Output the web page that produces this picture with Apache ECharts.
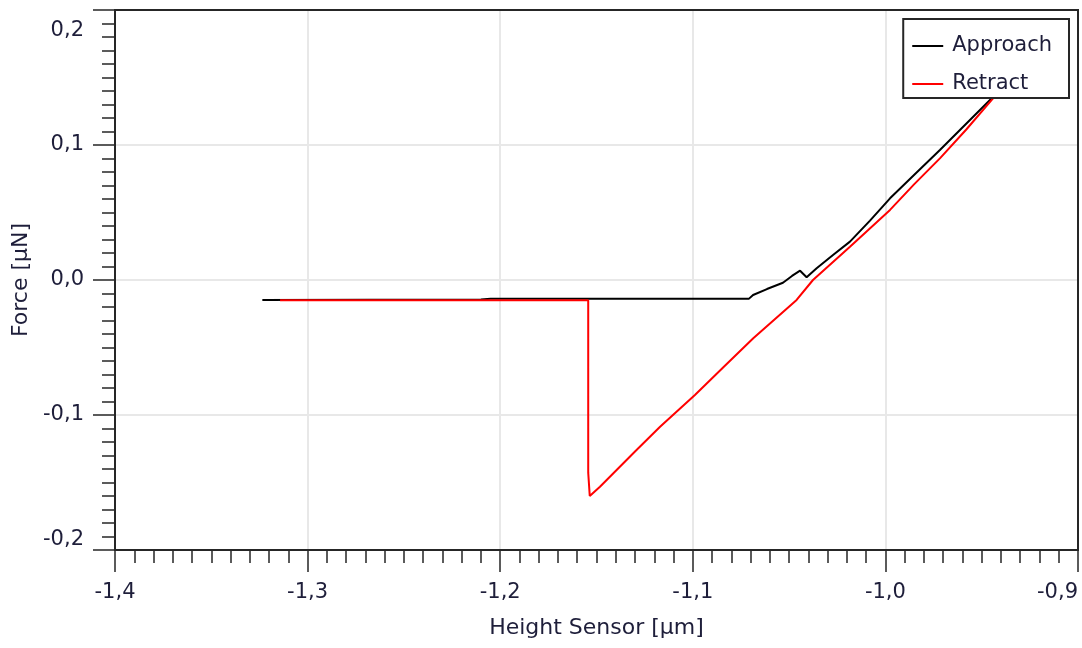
<!DOCTYPE html>
<html>
<head>
<meta charset="utf-8">
<title>Force curve</title>
<script src="https://cdn.jsdelivr.net/npm/echarts@6/dist/echarts.min.js"></script>
<style>
  html, body { margin: 0; padding: 0; background: #fff; }
  #chart { width: 1082px; height: 648px; }
</style>
</head>
<body>
<div id="chart"></div>
<script>
// Height sensor position [µm] and force [µN] for the approach curve
const approachHeight = [-1.3235, -1.2100, -1.2050, -1.1560, -1.0708, -1.0687, -1.0615, -1.0532, -1.0485, -1.0443,
  -1.0409, -1.0357, -1.0272, -1.0184, -1.0080, -0.9976, -0.9850, -0.9717, -0.9600, -0.9474, -0.9350];
const approachForce = [-0.0148, -0.0145, -0.0138, -0.0138, -0.0138, -0.0111, -0.0067, -0.0020, 0.0030, 0.0069,
  0.0020, 0.0087, 0.0185, 0.0284, 0.0440, 0.0605, 0.0780, 0.0963, 0.1130, 0.1309, 0.1485];

// Retract curve: flat baseline, snap-off jump, then the linear contact branch
const retractHeight = [-1.3143, -1.1543, -1.1543, -1.1535, -1.1535, -1.1482, -1.1300, -1.1170, -1.0989, -1.0840,
  -1.0686, -1.0461, -1.0376, -1.0184, -0.9976, -0.9850, -0.9717, -0.9580, -0.9449, -0.9350];
const retractForce = [-0.0150, -0.0150, -0.1427, -0.1435, -0.1600, -0.1531, -0.1270, -0.1087, -0.0852, -0.0645,
  -0.0432, -0.0148, 0.0000, 0.0247, 0.0519, 0.0710, 0.0901, 0.1115, 0.1333, 0.1490];

const seriesNames = ['Approach', 'Retract'];
const seriesColors = ['#000000', '#ff0000'];

const xTicks = { min: -1.4, max: -0.9, step: 0.1 };
const yTicks = { min: -0.2, max: 0.2, step: 0.1 };

const textColor = '#1e1e3a';
const axisColor = '#262626';
const fontFamily = 'Verdana, "DejaVu Sans", sans-serif';
const tickFontSize = 21;

function decimalComma(v) {
  const r = Math.round(v * 10) / 10;
  return (Math.abs(r) < 1e-9 ? 0 : r).toFixed(1).replace('.', ',');
}

// the topmost force label sits a little below its tick, inside the frame
function yLabel(v) {
  const s = decimalComma(v);
  return Math.abs(v - yTicks.max) < 1e-9 ? '{top|' + s + '}' : s;
}

function pairs(xs, ys) {
  return xs.map((x, i) => [x, ys[i]]);
}

const axisCommon = {
  type: 'value',
  axisLine: { show: true, onZero: false, lineStyle: { color: axisColor, width: 2 } },
  axisTick: { show: true, inside: false, length: 22, lineStyle: { color: axisColor, width: 1.5 } },
  minorTick: { show: true, splitNumber: 10, length: 13, lineStyle: { color: axisColor, width: 1.5 } },
  splitLine: { show: true, showMinLine: false, showMaxLine: false, lineStyle: { color: '#e8e8e8', width: 2 } },
  nameTextStyle: { color: textColor, fontSize: 22, fontFamily: fontFamily },
  nameLocation: 'middle'
};

const chart = echarts.init(document.getElementById('chart'), null, { renderer: 'canvas' });

chart.setOption({
  backgroundColor: '#ffffff',
  animation: false,
  grid: {
    left: 115, right: 4, top: 10, bottom: 98,
    show: true, borderColor: axisColor, borderWidth: 2, backgroundColor: 'transparent', z: 5
  },
  legend: {
    data: seriesNames,
    orient: 'vertical',
    right: 13,
    top: 19,
    backgroundColor: '#ffffff',
    borderColor: axisColor,
    borderWidth: 2,
    borderRadius: 0,
    padding: [15, 17, 2, 9],
    itemGap: 14,
    itemWidth: 31,
    itemHeight: 2,
    icon: 'rect',
    textStyle: { color: textColor, fontSize: 21, fontFamily: fontFamily, lineHeight: 24, padding: [0, 0, 0, 4] }
  },
  xAxis: Object.assign({}, axisCommon, {
    min: xTicks.min, max: xTicks.max, interval: xTicks.step,
    name: 'Height Sensor [µm]',
    nameGap: 67,
    axisLabel: {
      color: textColor, fontSize: tickFontSize, fontFamily: fontFamily, margin: 32,
      formatter: decimalComma, alignMaxLabel: 'right'
    }
  }),
  yAxis: Object.assign({}, axisCommon, {
    min: yTicks.min, max: yTicks.max, interval: yTicks.step,
    name: 'Force [µN]',
    nameGap: 81,
    axisLabel: {
      color: textColor, fontSize: tickFontSize, fontFamily: fontFamily, margin: 31,
      formatter: yLabel, verticalAlignMaxLabel: 'top', verticalAlignMinLabel: 'bottom',
      rich: {
        top: { color: textColor, fontSize: tickFontSize, fontFamily: fontFamily, padding: [10, 0, 0, 0] }
      }
    }
  }),
  series: [
    {
      name: seriesNames[0], type: 'line', data: pairs(approachHeight, approachForce),
      showSymbol: false, symbol: 'none', color: seriesColors[0],
      lineStyle: { color: seriesColors[0], width: 2 }, z: 2
    },
    {
      name: seriesNames[1], type: 'line', data: pairs(retractHeight, retractForce),
      showSymbol: false, symbol: 'none', color: seriesColors[1],
      lineStyle: { color: seriesColors[1], width: 2 }, z: 3
    }
  ]
});
</script>
</body>
</html>
